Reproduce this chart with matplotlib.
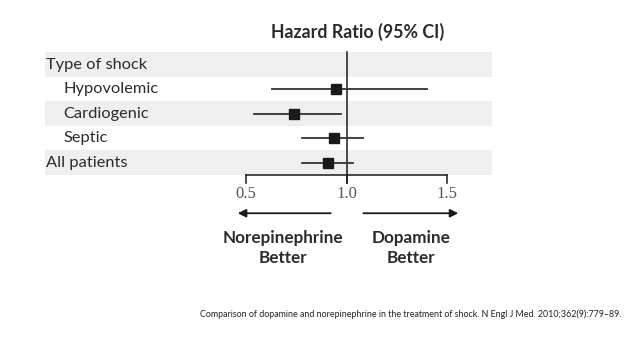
import matplotlib.pyplot as plt

# rows, top to bottom
labels = ['Type of shock', 'Hypovolemic', 'Cardiogenic', 'Septic', 'All patients']
indent = [False, True, True, True, False]
hr = [None, 0.95, 0.74, 0.94, 0.91]
ci_low = [None, 0.63, 0.54, 0.78, 0.78]
ci_high = [None, 1.40, 0.97, 1.08, 1.03]
shaded = [0, 2, 4]

ticks = [0.5, 1.0, 1.5]
tick_labels = ['0.5', '1.0', '1.5']

title = 'Hazard Ratio (95% CI)'
left_label = ['Norepinephrine', 'Better']
right_label = ['Dopamine', 'Better']
citation = ('Comparison of dopamine and norepinephrine in the treatment of shock. '
            'N Engl J Med. 2010;362(9):779\u201389.')

plt.rcParams['font.family'] = ['Lato', 'DejaVu Sans']

fig = plt.figure(figsize=(6.4, 3.49), dpi=100)
ax = fig.add_axes([0, 0, 1, 1])
# axes cover the whole figure: 201 px per unit HR, 24.5 px per row
ax.set_xlim(-0.724, 2.460)
ax.set_ylim(11.61, -2.633)
ax.axis('off')

txt = '#2b2b2b'
line = '#1a1a1a'

# shaded bands
for r in shaded:
    ax.fill_between([-0.5, 1.724], r - 0.5, r + 0.5, color='#efefef', lw=0, zorder=0)

# labels
for i, lab in enumerate(labels):
    x = -0.407 if indent[i] else -0.495
    ax.text(x, i, lab, fontsize=11.8, color=txt, va='center', ha='left')

# reference line
ax.plot([1.0, 1.0], [-0.52, 4.82], color=line, lw=1.1, zorder=2)

# estimates
for i in range(len(labels)):
    if hr[i] is None:
        continue
    ax.plot([ci_low[i], ci_high[i]], [i, i], color='#333333', lw=1.3, zorder=3)
    ax.plot(hr[i], i, marker='s', ms=7, color='#1a1a1a', zorder=4)

# x axis
ax.plot([ticks[0], ticks[-1]], [4.51, 4.51], color=line, lw=1.1)
for t, tl in zip(ticks, tick_labels):
    ax.plot([t, t], [4.51, 4.82], color=line, lw=1.1)
    ax.text(t, 5.29, tl, fontsize=12, color='#555555', ha='center', va='center',
            family='Liberation Serif')

# direction arrows
ax.annotate('', xy=(0.445, 6.07), xytext=(0.935, 6.07),
            arrowprops=dict(arrowstyle='-|>', color=line, lw=1.3, mutation_scale=12))
ax.annotate('', xy=(1.57, 6.07), xytext=(1.07, 6.07),
            arrowprops=dict(arrowstyle='-|>', color=line, lw=1.3, mutation_scale=12))

for k in range(2):
    ax.text(0.685, 7.08 + 0.82 * k, left_label[k], fontsize=12.3, fontweight='bold',
            color=txt, ha='center', va='center')
    ax.text(1.32, 7.08 + 0.82 * k, right_label[k], fontsize=12.3, fontweight='bold',
            color=txt, ha='center', va='center')

ax.text(1.053, -1.34, title, fontsize=12.8, fontweight='bold', color=txt,
        ha='center', va='center')

ax.text(0.271, 10.18, citation, fontsize=6.4, color='#222222', ha='left', va='center')

fig.savefig('out.png', dpi=100)
